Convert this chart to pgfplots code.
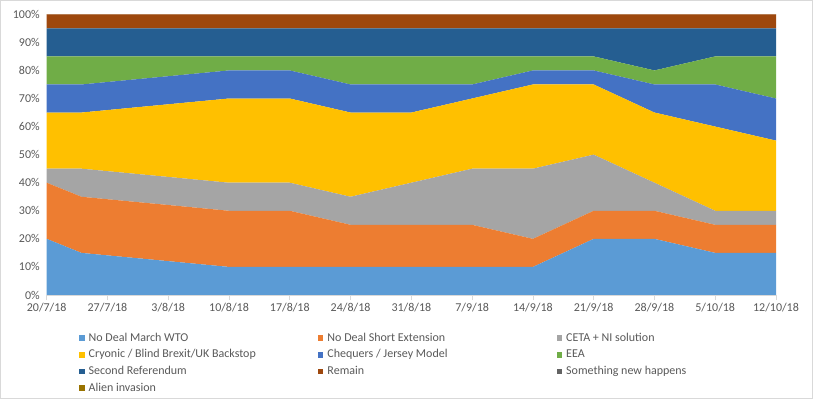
\documentclass[border=0pt]{standalone}
\usepackage{pgfplots}
\pgfplotsset{compat=1.18}
\usepackage{pgfplotstable}
\usepackage{fontspec}
\setmainfont{Carlito}
\definecolor{c1}{HTML}{5B9BD5}
\definecolor{c2}{HTML}{ED7D31}
\definecolor{c3}{HTML}{A5A5A5}
\definecolor{c4}{HTML}{FFC000}
\definecolor{c5}{HTML}{4472C4}
\definecolor{c6}{HTML}{70AD47}
\definecolor{c7}{HTML}{255E91}
\definecolor{c8}{HTML}{9E480E}
\definecolor{c9}{HTML}{636363}
\definecolor{c10}{HTML}{997300}
\definecolor{txt}{HTML}{595959}
\definecolor{axg}{HTML}{D9D9D9}
\pgfplotstableread{
x  s1 s2 s3 s4 s5 s6 s7 s8 s9 s10
0  20 20 5  20 10 10 10 5 0 0
4  15 20 10 20 10 10 10 5 0 0
21 10 20 10 30 10 5  10 5 0 0
28 10 20 10 30 10 5  10 5 0 0
35 10 15 10 30 10 10 10 5 0 0
42 10 15 15 25 10 10 10 5 0 0
49 10 15 20 25 5  10 10 5 0 0
56 10 10 25 30 5  5  10 5 0 0
63 20 10 20 25 5  5  10 5 0 0
70 20 10 10 25 10 5  15 5 0 0
77 15 10 5  30 15 10 10 5 0 0
84 15 10 5  25 15 15 10 5 0 0
}\data
\begin{document}
\begin{tikzpicture}
\useasboundingbox (0bp,0bp) rectangle (814bp,400bp);
\draw[draw=axg, line width=0.75bp] (0.5bp,1.5bp) rectangle (812.7bp,399.2bp);
\begin{axis}[
  at={(46.7bp,105bp)}, anchor=south west,
  scale only axis, width=729.3bp, height=280.7bp,
  xmin=0, xmax=84, ymin=0, ymax=100,
  stack plots=y,
  axis x line*=bottom, axis y line*=left,
  y axis line style={draw=none},
  x axis line style={draw=axg, line width=0.75bp, -},
  xtick={0,7,...,84},
  xticklabels={20/7/18,27/7/18,3/8/18,10/8/18,17/8/18,24/8/18,31/8/18,7/9/18,14/9/18,21/9/18,28/9/18,5/10/18,12/10/18},
  ytick={0,10,...,100},
  yticklabels={0\%,10\%,20\%,30\%,40\%,50\%,60\%,70\%,80\%,90\%,100\%},
  tick align=outside, major tick length=5bp,
  xtick style={draw=axg, line width=0.75bp},
  ytick style={draw=none},
  yticklabel style={xshift=1.5bp},
  /pgf/number format/assume math mode=true,
  tick label style={font=\fontsize{12bp}{14bp}\selectfont, text=txt},
  legend columns=3,
  legend cell align=left,
  legend image code/.code={\path[#1,draw=none] (0bp,-2.8bp) rectangle (5.6bp,2.8bp);},
  legend style={at={(axis description cs:0.0444,-0.134)}, anchor=north west,
    draw=none, fill=none, inner sep=0pt, outer sep=0pt,
    font=\fontsize{12bp}{14bp}\selectfont, text=txt, row sep=5.7bp,
    nodes={inner sep=0pt, text height=8.5bp, text depth=2.5bp},
    /tikz/every odd column/.style={column sep=4bp},
    /tikz/column 2/.style={column sep=62bp},
    /tikz/column 4/.style={column sep=109bp}},
]
\addplot[fill=c1, draw=none, mark=none] table[x=x,y=s1]{\data} \closedcycle;
\addlegendentry{No Deal March WTO}
\addplot[fill=c2, draw=none, mark=none] table[x=x,y=s2]{\data} \closedcycle;
\addlegendentry{No Deal Short Extension}
\addplot[fill=c3, draw=none, mark=none] table[x=x,y=s3]{\data} \closedcycle;
\addlegendentry{CETA + NI solution}
\addplot[fill=c4, draw=none, mark=none] table[x=x,y=s4]{\data} \closedcycle;
\addlegendentry{Cryonic / Blind Brexit/UK Backstop}
\addplot[fill=c5, draw=none, mark=none] table[x=x,y=s5]{\data} \closedcycle;
\addlegendentry{Chequers / Jersey Model}
\addplot[fill=c6, draw=none, mark=none] table[x=x,y=s6]{\data} \closedcycle;
\addlegendentry{EEA}
\addplot[fill=c7, draw=none, mark=none] table[x=x,y=s7]{\data} \closedcycle;
\addlegendentry{Second Referendum}
\addplot[fill=c8, draw=none, mark=none] table[x=x,y=s8]{\data} \closedcycle;
\addlegendentry{Remain}
\addplot[fill=c9, draw=none, mark=none] table[x=x,y=s9]{\data} \closedcycle;
\addlegendentry{Something new happens}
\addplot[fill=c10, draw=none, mark=none] table[x=x,y=s10]{\data} \closedcycle;
\addlegendentry{Alien invasion}
\end{axis}
\end{tikzpicture}
\end{document}
